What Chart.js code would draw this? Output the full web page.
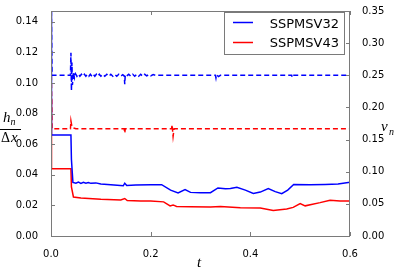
<!DOCTYPE html>
<html>
<head>
<meta charset="utf-8">
<script src="https://cdn.jsdelivr.net/npm/chart.js@4.4.1/dist/chart.umd.min.js"></script>
<style>
html,body{margin:0;padding:0;background:#fff;}
#wrap{width:398px;height:269px;position:relative;}
</style>
</head>
<body>
<div id="wrap"><canvas id="c" width="398" height="269"></canvas></div>
<script>
// ---- data ----
const seriesNames = ["SSPMSV32", "SSPMSV43"];

// h_n / Δx (left axis, solid)
const tBlueH = [0, 0.001, 0.040, 0.041, 0.044, 0.05, 0.055, 0.06, 0.065, 0.07, 0.075, 0.08, 0.09, 0.10, 0.12, 0.145, 0.148, 0.152, 0.17, 0.20, 0.222, 0.24, 0.255, 0.269, 0.28, 0.30, 0.32, 0.335, 0.35, 0.36, 0.373, 0.39, 0.406, 0.42, 0.436, 0.45, 0.463, 0.475, 0.487, 0.52, 0.55, 0.576, 0.6];
const blueH  = [0.16, 0.066, 0.066, 0.050, 0.035, 0.0345, 0.0352, 0.0344, 0.0351, 0.0345, 0.0350, 0.0344, 0.0347, 0.0340, 0.0335, 0.0328, 0.0345, 0.0330, 0.0333, 0.0335, 0.0335, 0.0300, 0.0282, 0.0304, 0.0285, 0.0282, 0.0283, 0.0314, 0.0308, 0.0310, 0.0318, 0.0300, 0.0278, 0.0287, 0.0310, 0.0290, 0.0276, 0.0300, 0.0336, 0.0335, 0.0337, 0.0340, 0.0352];

const tRedH = [0, 0.001, 0.040, 0.041, 0.045, 0.06, 0.10, 0.14, 0.148, 0.153, 0.18, 0.20, 0.226, 0.239, 0.245, 0.252, 0.28, 0.32, 0.34, 0.38, 0.42, 0.446, 0.473, 0.486, 0.5, 0.51, 0.54, 0.56, 0.58, 0.6];
const redH  = [0.09, 0.044, 0.044, 0.032, 0.0255, 0.0248, 0.0240, 0.0235, 0.0245, 0.0232, 0.0228, 0.0228, 0.0223, 0.0197, 0.0203, 0.0193, 0.0191, 0.0190, 0.0192, 0.0185, 0.0183, 0.0166, 0.0176, 0.0187, 0.0212, 0.0197, 0.0218, 0.0234, 0.0228, 0.0229];

// ν_n (right axis, dashed)
const tBlueNu = [0, 0.002, 0.039, 0.040, 0.041, 0.042, 0.043, 0.045, 0.047, 0.049, 0.052, 0.055, 0.058, 0.061, 0.064, 0.067, 0.070, 0.073, 0.076, 0.079, 0.082, 0.085, 0.088, 0.091, 0.094, 0.097, 0.100, 0.104, 0.108, 0.112, 0.116, 0.120, 0.124, 0.128, 0.132, 0.136, 0.140, 0.144, 0.147, 0.148, 0.149, 0.152, 0.156, 0.160, 0.164, 0.168, 0.172, 0.176, 0.180, 0.184, 0.188, 0.192, 0.196, 0.200, 0.205, 0.21, 0.33, 0.331, 0.332, 0.336, 0.34, 0.483, 0.484, 0.485, 0.6];
const blueNu  = [0.40, 0.25, 0.25, 0.285, 0.226, 0.27, 0.235, 0.255, 0.246, 0.2525, 0.2485, 0.252, 0.2485, 0.2515, 0.2485, 0.2515, 0.2485, 0.2515, 0.2485, 0.2515, 0.2485, 0.2515, 0.2485, 0.2515, 0.2485, 0.2515, 0.2485, 0.2515, 0.2485, 0.2515, 0.2485, 0.2515, 0.2485, 0.2515, 0.2485, 0.2515, 0.2485, 0.251, 0.249, 0.236, 0.251, 0.249, 0.2515, 0.2485, 0.2515, 0.2485, 0.2515, 0.2485, 0.2515, 0.2485, 0.2515, 0.249, 0.251, 0.249, 0.251, 0.25, 0.25, 0.246, 0.251, 0.248, 0.25, 0.25, 0.247, 0.25, 0.25];

const tRedNu = [0, 0.002, 0.039, 0.040, 0.042, 0.045, 0.05, 0.147, 0.148, 0.149, 0.242, 0.243, 0.245, 0.247, 0.6];
const redNu  = [0.30, 0.1667, 0.1667, 0.179, 0.170, 0.168, 0.1667, 0.1667, 0.160, 0.1667, 0.1667, 0.173, 0.155, 0.1667, 0.1667];

const xLabelTicks = [0, 0.2, 0.4, 0.6];
const leftTicks = [0, 0.02, 0.04, 0.06, 0.08, 0.10, 0.12, 0.14];
const rightTicks = [0, 0.05, 0.10, 0.15, 0.20, 0.25, 0.30, 0.35];

const BLUE = "#0000ff", RED = "#ff0000", FRAME = "#7a7a7a";
const pts = (ts, vs) => ts.map((t, i) => ({x: t, y: vs[i]}));

const frame = {
  id: "frame",
  afterDatasetsDraw(chart) {
    const {ctx, chartArea: a, scales} = chart;
    ctx.save();
    ctx.strokeStyle = FRAME;
    ctx.lineWidth = 1;
    ctx.strokeRect(Math.round(a.left) + 0.5, Math.round(a.top) + 0.5, Math.round(a.right - a.left) - 1, Math.round(a.bottom - a.top));
    const L = 4;
    ctx.beginPath();
    xLabelTicks.forEach(v => {
      const x = Math.round(scales.x.getPixelForValue(v)) + 0.5;
      ctx.moveTo(x, a.bottom); ctx.lineTo(x, a.bottom - L);
      ctx.moveTo(x, a.top); ctx.lineTo(x, a.top + L);
    });
    leftTicks.forEach(v => {
      const y = Math.round(scales.y.getPixelForValue(v)) + 0.5;
      ctx.moveTo(a.left, y); ctx.lineTo(a.left + L, y);
    });
    rightTicks.forEach(v => {
      const y = Math.round(scales.y1.getPixelForValue(v)) + 0.5;
      ctx.moveTo(a.right, y); ctx.lineTo(a.right - L, y);
    });
    ctx.stroke();

    // legend
    const bx = 224.5, by = 12.5, bw = 120, bh = 42;
    ctx.fillStyle = "#fff";
    ctx.fillRect(bx, by, bw, bh);
    ctx.strokeStyle = FRAME;
    ctx.strokeRect(bx, by, bw, bh);
    const rows = [[seriesNames[0], BLUE, 22.5, 27.5], [seriesNames[1], RED, 42.5, 47]];
    ctx.font = "13px 'DejaVu Sans'";
    ctx.textAlign = "right";
    ctx.textBaseline = "alphabetic";
    rows.forEach(([name, col, ly, ty]) => {
      ctx.strokeStyle = col; ctx.lineWidth = 1.5;
      ctx.beginPath(); ctx.moveTo(233, ly); ctx.lineTo(253, ly); ctx.stroke();
      ctx.fillStyle = "#000";
      ctx.fillText(name, 339, ty);
    });

    // axis titles
    ctx.fillStyle = "#000";
    ctx.textAlign = "left";
    ctx.font = "italic 15px 'Liberation Serif'";
    ctx.fillText("h", 3, 122);
    ctx.font = "italic 10px 'Liberation Serif'";
    ctx.fillText("n", 10.5, 124.5);
    ctx.strokeStyle = "#000"; ctx.lineWidth = 1;
    ctx.beginPath(); ctx.moveTo(0, 129.5); ctx.lineTo(21, 129.5); ctx.stroke();
    ctx.font = "14px 'Liberation Serif'";
    ctx.fillText("\u0394", 1, 142);
    ctx.font = "italic 15px 'Liberation Serif'";
    ctx.fillText("x", 11, 142);
    ctx.fillText("\u03bd", 381, 131);
    ctx.font = "italic 10px 'Liberation Serif'";
    ctx.fillText("n", 389, 135);
    ctx.font = "italic 15px 'Liberation Serif'";
    ctx.fillText("t", 197, 267);
    ctx.restore();
  }
};

const tickFont = {family: "'DejaVu Sans'", size: 10};

new Chart(document.getElementById("c"), {
  type: "line",
  data: {
    datasets: [
      {label: seriesNames[0], data: pts(tBlueH, blueH), borderColor: BLUE, yAxisID: "y"},
      {label: seriesNames[1], data: pts(tRedH, redH), borderColor: RED, yAxisID: "y"},
      {label: seriesNames[0] + " nu", data: pts(tBlueNu, blueNu), borderColor: BLUE, borderDash: [5, 3], yAxisID: "y1"},
      {label: seriesNames[1] + " nu", data: pts(tRedNu, redNu), borderColor: RED, borderDash: [5, 3], yAxisID: "y1"}
    ]
  },
  options: {
    responsive: false,
    animation: false,
    devicePixelRatio: 1,
    layout: {padding: {top: 5, left: 0, right: 0, bottom: 0}},
    elements: {line: {borderWidth: 1.5, tension: 0, fill: false}, point: {radius: 0}},
    plugins: {legend: {display: false}, tooltip: {enabled: false}},
    scales: {
      x: {
        type: "linear", min: 0, max: 0.6,
        afterBuildTicks: s => { s.ticks = xLabelTicks.map(v => ({value: v})); },
        afterFit: s => { s.height = 33; },
        grid: {display: false}, border: {display: false},
        ticks: {font: tickFont, color: "#000", padding: 4, maxRotation: 0, callback: v => v.toFixed(1)}
      },
      y: {
        type: "linear", position: "left", min: 0, max: 0.147,
        afterBuildTicks: s => { s.ticks = leftTicks.map(v => ({value: v})); },
        afterFit: s => { s.width = 51; },
        grid: {display: false}, border: {display: false},
        ticks: {font: tickFont, color: "#000", padding: 5, callback: v => v.toFixed(2)}
      },
      y1: {
        type: "linear", position: "right", min: 0, max: 0.35,
        afterBuildTicks: s => { s.ticks = rightTicks.map(v => ({value: v})); },
        afterFit: s => { s.width = 48; },
        grid: {display: false}, border: {display: false},
        ticks: {font: tickFont, color: "#000", padding: 4, callback: v => v.toFixed(2)}
      }
    }
  },
  plugins: [frame]
});
</script>
</body>
</html>
